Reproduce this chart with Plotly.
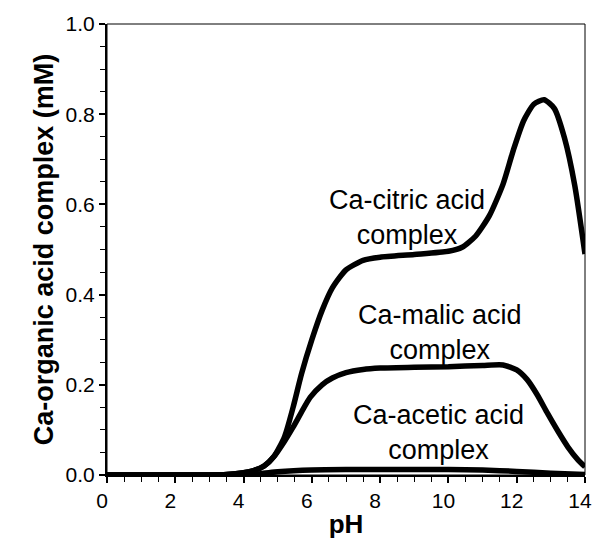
import plotly.graph_objects as go

ph_citric = [0, 1, 2, 3, 3.5, 4.0, 4.3, 4.6, 4.9, 5.2, 5.45, 5.7, 6.0, 6.3, 6.6, 7.0, 7.5, 8.0, 9.0, 10.0, 10.4, 10.8, 11.2, 11.6, 11.9, 12.2, 12.5, 12.8, 13.1, 13.4, 13.7, 14.0]
citric = [0, 0, 0, 0, 0.001, 0.005, 0.01, 0.02, 0.042, 0.085, 0.15, 0.225, 0.30, 0.365, 0.415, 0.455, 0.476, 0.483, 0.489, 0.496, 0.505, 0.53, 0.575, 0.645, 0.72, 0.785, 0.822, 0.832, 0.813, 0.747, 0.642, 0.49]

ph_malic = [0, 1, 2, 3, 3.5, 4.0, 4.3, 4.6, 4.9, 5.2, 5.45, 5.7, 5.95, 6.3, 6.6, 7.0, 7.5, 8.0, 9.0, 10.0, 11.0, 11.6, 12.0, 12.3, 12.6, 12.9, 13.2, 13.5, 13.8, 14.0]
malic = [0, 0, 0, 0, 0.001, 0.005, 0.01, 0.02, 0.042, 0.075, 0.106, 0.14, 0.172, 0.200, 0.215, 0.227, 0.234, 0.237, 0.239, 0.240, 0.243, 0.244, 0.233, 0.212, 0.178, 0.137, 0.098, 0.062, 0.033, 0.018]

ph_acetic = [0, 1, 2, 3, 4.0, 4.5, 5.0, 6.0, 7.0, 8.0, 9.0, 10.0, 11.0, 12.0, 13.0, 14.0]
acetic = [0, 0, 0, 0, 0.001, 0.003, 0.007, 0.011, 0.012, 0.012, 0.012, 0.012, 0.011, 0.008, 0.004, 0.001]

labels = ["Ca-citric acid<br>complex", "Ca-malic acid<br>complex", "Ca-acetic acid<br>complex"]
label_x = [8.8, 9.75, 9.72]
label_y = [0.57, 0.317, 0.095]

x_ticks = [0, 2, 4, 6, 8, 10, 12, 14]
y_ticks = [0.0, 0.2, 0.4, 0.6, 0.8, 1.0]

FONT = "Liberation Sans, Arial"

fig = go.Figure()
for xs, ys in [(ph_citric, citric), (ph_malic, malic), (ph_acetic, acetic)]:
    fig.add_trace(go.Scatter(x=xs, y=ys, mode="lines",
                             line=dict(color="black", width=5.5, shape="spline", smoothing=0.6),
                             showlegend=False, cliponaxis=False))

for t, x, y in zip(labels, label_x, label_y):
    fig.add_annotation(x=x, y=y, text=t, showarrow=False, xref="x", yref="y",
                       font=dict(family=FONT, size=27, color="black"),
                       align="center")

fig.update_layout(
    width=593, height=540,
    margin=dict(l=107, r=8, t=24, b=65),
    plot_bgcolor="white", paper_bgcolor="white",
    font=dict(family=FONT, color="black"),
    xaxis=dict(range=[0, 14], tickvals=x_ticks, ticktext=[str(v) for v in x_ticks],
               showgrid=False, zeroline=False, showline=True, linecolor="black", linewidth=2,
               mirror=False, ticks="outside", ticklen=6, tickwidth=1.5, tickcolor="black",
               minor=dict(dtick=0.5, ticks="outside", ticklen=5, tickwidth=1.2, tickcolor="black"),
               tickfont=dict(size=21, family=FONT), ticklabeloverflow="allow", automargin=False,
               ticklabelshift=-5,
               title=dict(text="<b>pH</b>", font=dict(size=26, family=FONT), standoff=4)),
    yaxis=dict(range=[0, 1], tickvals=y_ticks, ticktext=["%.1f" % v for v in y_ticks],
               showgrid=False, zeroline=False, showline=True, linecolor="black", linewidth=2,
               mirror=False, ticks="outside", ticklen=6, tickwidth=1.5, tickcolor="black",
               minor=dict(dtick=0.05, ticks="outside", ticklen=5, tickwidth=1.2, tickcolor="black"),
               tickfont=dict(size=21, family=FONT), automargin=False,
               title=dict(text="<b>Ca-organic acid complex (mM)</b>", font=dict(size=27, family=FONT), standoff=4)),
)
fig.add_shape(type="rect", xref="paper", yref="paper", x0=0, y0=0, x1=1, y1=1,
              line=dict(color="black", width=1))

fig.write_html("out.html")
